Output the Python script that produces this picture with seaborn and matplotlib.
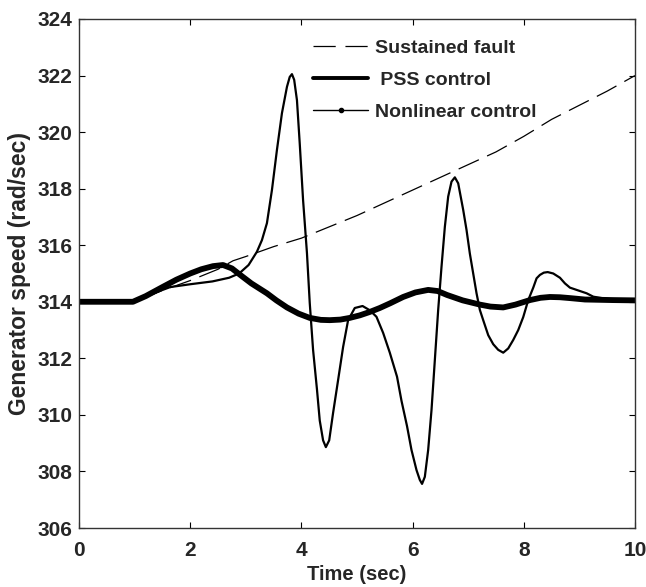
import numpy as np
import pandas as pd
import matplotlib
matplotlib.use("Agg")
import matplotlib.pyplot as plt
import seaborn as sns
from matplotlib.lines import Line2D

# ---------------- data ----------------
fault_t = [0, 1.0, 1.5, 2.0, 2.5, 2.77, 3.0, 3.5, 4.0, 4.5, 5.0, 5.5, 6.0, 6.5, 7.0, 7.5, 8.0, 8.5, 9.0, 9.5, 10.0]
fault_v = [314.0, 314.0, 314.4, 314.75, 315.15, 315.45, 315.6, 315.95, 316.25, 316.65, 317.05, 317.5,
           317.95, 318.4, 318.85, 319.3, 319.85, 320.45, 320.95, 321.45, 322.0]

pss_t = [0, 0.97, 1.3, 1.64, 2.0, 2.4, 2.7, 2.88, 3.05, 3.2, 3.29, 3.38, 3.47, 3.56, 3.65, 3.74, 3.79,
         3.83, 3.87, 3.92, 3.97, 4.03, 4.1, 4.15, 4.21, 4.28, 4.33, 4.39, 4.44, 4.5, 4.57, 4.66,
         4.75, 4.84, 4.96, 5.1, 5.23, 5.35, 5.47, 5.59, 5.72, 5.8, 5.9, 5.98, 6.07, 6.13, 6.17,
         6.22, 6.28, 6.34, 6.4, 6.46, 6.52, 6.58, 6.64, 6.7, 6.76, 6.82, 6.91, 6.97, 7.03, 7.09,
         7.15, 7.21, 7.27, 7.36, 7.45, 7.54, 7.63, 7.72, 7.81, 7.9, 7.99, 8.08, 8.17, 8.23, 8.29,
         8.36, 8.43, 8.53, 8.65, 8.74, 8.83, 8.95, 9.13, 9.25, 9.5, 10.0]
pss_v = [314.0, 314.0, 314.27, 314.52, 314.62, 314.72, 314.85, 315.0, 315.3, 315.77, 316.18, 316.78,
         317.95, 319.37, 320.67, 321.6, 321.95, 322.05, 321.85, 321.13, 319.6, 317.6, 315.72,
         313.96, 312.3, 310.9, 309.8, 309.1, 308.86, 309.1, 310.07, 311.23, 312.4, 313.35, 313.78,
         313.85, 313.7, 313.47, 312.9, 312.2, 311.35, 310.5, 309.6, 308.76, 308.05, 307.7, 307.56,
         307.81, 308.76, 310.17, 311.94, 313.71, 315.24, 316.65, 317.72, 318.25, 318.4, 318.19,
         317.25, 316.54, 315.7, 315.0, 314.3, 313.71, 313.35, 312.82, 312.5, 312.3, 312.2, 312.35,
         312.65, 313.0, 313.46, 314.06, 314.5, 314.83, 314.95, 315.03, 315.05, 315.0, 314.85,
         314.65, 314.5, 314.42, 314.3, 314.18, 314.1, 314.05]

nl_t = [0, 0.97, 1.2, 1.51, 1.75, 2.0, 2.2, 2.41, 2.59, 2.75, 2.9, 3.1, 3.38, 3.55, 3.74, 3.95, 4.15,
        4.35, 4.51, 4.7, 4.87, 5.05, 5.23, 5.41, 5.6, 5.83, 6.05, 6.28, 6.45, 6.62, 6.9, 7.21, 7.4,
        7.63, 7.85, 8.11, 8.3, 8.47, 8.65, 8.83, 9.1, 9.6, 10.0]
nl_v = [314.0, 314.0, 314.2, 314.53, 314.78, 315.0, 315.15, 315.26, 315.3, 315.18, 314.95, 314.65,
        314.3, 314.05, 313.8, 313.58, 313.43, 313.36, 313.35, 313.37, 313.43, 313.52, 313.64,
        313.78, 313.95, 314.17, 314.33, 314.42, 314.38, 314.24, 314.05, 313.9, 313.83, 313.8,
        313.9, 314.06, 314.14, 314.17, 314.16, 314.13, 314.08, 314.06, 314.05]

labels = ["Sustained fault", " PSS control", "Nonlinear control"]
x_ticks = [0, 2, 4, 6, 8, 10]
y_ticks = [306, 308, 310, 312, 314, 316, 318, 320, 322, 324]

# ---------------- style ----------------
sns.set_theme(style="white")
plt.rcParams["font.family"] = ["Liberation Sans", "DejaVu Sans"]
plt.rcParams["font.weight"] = "bold"
plt.rcParams["lines.scale_dashes"] = False

fig = plt.figure(figsize=(6.46, 5.87), dpi=100)
ax = fig.add_axes([79 / 646, 1 - 528 / 587, (635 - 79) / 646, (528 - 19) / 587])

sns.lineplot(x=fault_t, y=fault_v, ax=ax, color="black", lw=0.9, estimator=None, sort=False,
             dashes=False, linestyle=(0, (16, 6.5)))
sns.lineplot(x=pss_t, y=pss_v, ax=ax, color="black", lw=1.6, estimator=None, sort=False)
sns.lineplot(x=nl_t, y=nl_v, ax=ax, color="black", lw=4.2, estimator=None, sort=False)

ax.set_xlim(0, 10)
ax.set_ylim(306, 324)
ax.set_xticks(x_ticks)
ax.set_yticks(y_ticks)
ax.set_xticklabels([str(v) for v in x_ticks], fontsize=15, fontweight="bold")
ax.set_yticklabels([str(v) for v in y_ticks], fontsize=15, fontweight="bold")
ax.tick_params(axis="both", direction="in", length=4, width=0.8, color="black",
               top=True, right=True, bottom=True, left=True)
ax.tick_params(axis="y", pad=5)
ax.tick_params(axis="x", pad=9)
for s in ax.spines.values():
    s.set_color("#333333")
    s.set_linewidth(1.0)
ax.set_xlabel("Time (sec)", fontsize=14.5, fontweight="bold", labelpad=4)
ax.set_ylabel("Generator speed (rad/sec)", fontsize=16.5, fontweight="bold", labelpad=4)

handles = [
    Line2D([], [], color="black", lw=0.9, linestyle=(0, (16, 7))),
    Line2D([], [], color="black", lw=2.8),
    Line2D([], [], color="black", lw=1.0, marker="o", markersize=3),
]
ax.legend(handles, labels, loc="upper left", bbox_to_anchor=(0.421, 0.960), frameon=False,
          borderpad=0, borderaxespad=0, handlelength=2.83, handletextpad=0.36,
          labelspacing=0.73, prop={"size": 14, "weight": "bold"})

fig.savefig("out.png", dpi=100)
